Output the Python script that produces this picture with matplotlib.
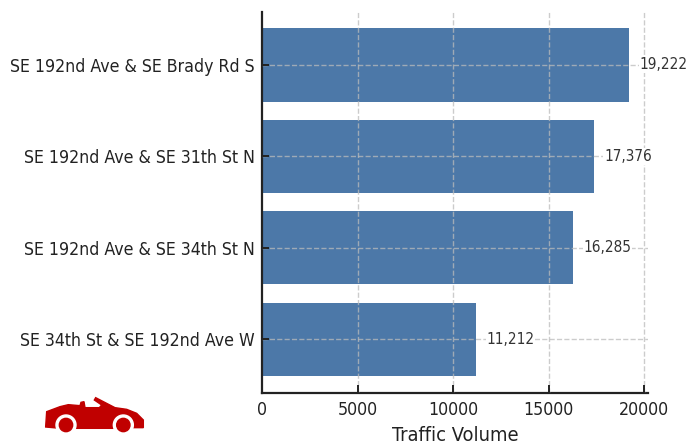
import matplotlib
matplotlib.use("Agg")
import matplotlib.pyplot as plt
from matplotlib.patches import Polygon, Circle

plt.rcParams['font.family'] = ['DejaVu Sans']
plt.rcParams['font.stretch'] = 'condensed'

# intersections, top to bottom on the chart
locations = ["SE 34th St & SE 192nd Ave W", "SE 192nd Ave & SE 34th St N",
             "SE 192nd Ave & SE 31th St N", "SE 192nd Ave & SE Brady Rd S"]
volumes = [11212, 16285, 17376, 19222]
xticks = [0, 5000, 10000, 15000, 20000]

# car outline, in pixels of the 3x crop
car_x = [137, 140, 180, 205, 240, 243, 252, 255, 298, 305, 283, 287, 345, 380, 410, 430, 430, 400, 340, 230, 170, 137]
car_y = [200, 155, 140, 134, 137, 127, 125, 143, 143, 135, 120, 113, 143, 148, 160, 180, 203, 203, 205, 205, 204, 201]
wheel_x = [198, 370]
wheel_y = 195

W, H = 689, 446
fig = plt.figure(figsize=(W / 100, H / 100), dpi=100)
ax = fig.add_axes([262 / W, 1 - 393 / H, (648 - 262) / W, (393 - 12) / H])

ax.barh(locations, volumes, height=0.8, color="#4c78a8")
ax.set_xlim(0, 20190)
ax.set_ylim(-0.59, 3.58)

ax.set_xticks(xticks)
ax.grid(True, color="#bbbbbb", linestyle="--", linewidth=1.0, alpha=0.75)
ax.set_axisbelow(False)
ax.xaxis.get_gridlines()[0].set_visible(False)  # keeps the left spine solid
ax.spines["top"].set_visible(False)
ax.spines["right"].set_visible(False)
for side in ["left", "bottom"]:
    ax.spines[side].set_linewidth(1.6)
    ax.spines[side].set_color("#222222")
ax.tick_params(axis="y", direction="in", length=5, width=1.4, pad=5, labelsize=12.7, colors="#222222")
ax.tick_params(axis="x", direction="in", length=6, width=1.4, pad=6, labelsize=12.7, colors="#222222")
ax.set_xlabel("Traffic Volume", fontsize=14.4, color="#222222", labelpad=5)

for i, v in enumerate(volumes):
    ax.text(v + 520, i, f"{v:,}", va="center", ha="left", fontsize=11, color="#333333",
            bbox=dict(facecolor="white", edgecolor="none", pad=0.5))

# car logo bottom left
lax = fig.add_axes([0, 0, 300 / W, 86 / H])
lax.set_xlim(0, 900)
lax.set_ylim(258, 0)
lax.axis("off")
lax.add_patch(Polygon(list(zip(car_x, car_y)), closed=True, color="#c00000"))
for wx in wheel_x:
    lax.add_patch(Circle((wx, wheel_y), 30, color="white"))
    lax.add_patch(Circle((wx, wheel_y), 20, color="#c00000"))

fig.savefig("out.png", dpi=100)
